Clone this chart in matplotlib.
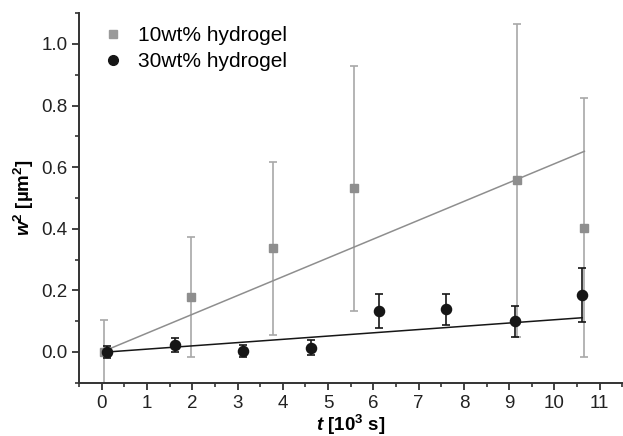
import matplotlib
matplotlib.use("Agg")
import matplotlib.pyplot as plt
from matplotlib.ticker import MultipleLocator
from matplotlib.lines import Line2D

plt.rcParams['font.family'] = ['Liberation Sans', 'DejaVu Sans']
plt.rcParams['mathtext.fontset'] = 'custom'
plt.rcParams['mathtext.rm'] = 'Liberation Sans'
plt.rcParams['mathtext.it'] = 'Liberation Sans:italic'
plt.rcParams['mathtext.bf'] = 'Liberation Sans:bold'
plt.rcParams['mathtext.bfit'] = 'Liberation Sans:italic:bold'

# 10wt% hydrogel
t10 = [0.06, 1.98, 3.78, 5.57, 9.17, 10.66]
w10 = [0.0, 0.179, 0.336, 0.531, 0.557, 0.404]
e10 = [0.105, 0.195, 0.28, 0.397, 0.507, 0.42]
fit10 = (0.0, 0.0611)  # intercept, slope

# 30wt% hydrogel
t30 = [0.125, 1.62, 3.12, 4.62, 6.12, 7.61, 9.12, 10.61]
w30 = [0.0, 0.023, 0.004, 0.014, 0.133, 0.139, 0.10, 0.186]
e30 = [0.02, 0.022, 0.02, 0.025, 0.055, 0.05, 0.05, 0.088]
fit30 = (-0.0013, 0.0106)

gray = '#8e8e8e'
black = '#161616'

fig = plt.figure(figsize=(6.23, 4.36), dpi=100)
ax = fig.add_axes([0.127, 0.122, 0.872, 0.848])

ax.errorbar(t10, w10, yerr=e10, fmt='s', color=gray, ecolor='#a8a8a8',
            ms=6.3, elinewidth=1.2, capsize=3, capthick=1.2, zorder=2)
fx = [t10[0], t10[-1]]
ax.plot(fx, [fit10[0] + fit10[1] * x for x in fx], color=gray, lw=1.1, zorder=2)

ax.errorbar(t30, w30, yerr=e30, fmt='o', color=black, ecolor=black,
            ms=7.3, elinewidth=1.2, capsize=3, capthick=1.2, zorder=3)
fx = [t30[0], t30[-1]]
ax.plot(fx, [fit30[0] + fit30[1] * x for x in fx], color=black, lw=1.1, zorder=3)

ax.set_xlim(-0.5, 11.5)
ax.set_ylim(-0.1, 1.1)
ax.xaxis.set_major_locator(MultipleLocator(1))
ax.xaxis.set_minor_locator(MultipleLocator(0.5))
ax.yaxis.set_minor_locator(MultipleLocator(0.1))
ax.set_yticks([0.0, 0.2, 0.4, 0.6, 0.8, 1.0])

for s in ['top', 'right']:
    ax.spines[s].set_visible(False)
for s in ['left', 'bottom']:
    ax.spines[s].set_linewidth(1.4)
    ax.spines[s].set_color('#333333')

ax.tick_params(which='major', direction='out', length=5, width=1.3, labelsize=13.5,
               colors='#333333', labelcolor='#222222')
ax.tick_params(which='minor', direction='out', length=3, width=1.2, colors='#333333')

ax.set_xlabel(r'$\mathbfit{t}$ $\mathbf{[10^3\ s]}$', fontsize=13.5, labelpad=1)
ax.set_ylabel('$\\mathbfit{w}^\\mathbf{2}$ $\\mathbf{[µm^2]}$', fontsize=13.5, labelpad=4)

handles = [Line2D([], [], ls='none', marker='s', color='#9a9a9a', ms=6),
           Line2D([], [], ls='none', marker='o', color=black, ms=7)]
ax.legend(handles, ['10wt% hydrogel', '30wt% hydrogel'], loc='upper left',
          bbox_to_anchor=(0.035, 0.976), frameon=False, fontsize=15,
          handletextpad=0.7, labelspacing=0.35, handlelength=1.0, borderpad=0.2,
          borderaxespad=0.0, bbox_transform=ax.transAxes)

fig.savefig('out.png', dpi=100)
